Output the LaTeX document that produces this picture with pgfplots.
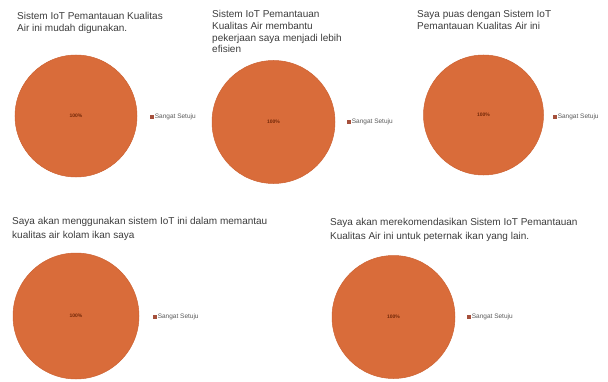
\documentclass[border=0pt]{standalone}
\usepackage{pgfplots}
\pgfplotsset{compat=1.18}
\usepackage{fontspec}
\setmainfont{Liberation Sans}
\definecolor{pieorange}{RGB}{217,108,58}
\definecolor{pieedge}{RGB}{205,98,50}
\definecolor{legmark}{RGB}{165,80,60}
\definecolor{titlegray}{RGB}{60,60,60}
\definecolor{leggray}{RGB}{90,90,90}
\definecolor{labcol}{RGB}{115,40,8}

% #1 cx(px) #2 cy(px) #3 r(px) #4 legend rel x #5 legend rel y
\newcommand{\pie}[5]{%
\begin{axis}[
  at={(#1pt,{381pt-#2pt})}, anchor=center,
  scale only axis, width={2*#3pt}, height={2*#3pt},
  xmin=-1, xmax=1, ymin=-1, ymax=1,
  hide axis, clip=false,
  legend style={at={(#4,#5)}, anchor=west, draw=none, fill=none,
    inner sep=0pt, outer sep=0pt,
    font=\fontsize{6.5}{7}\selectfont, text=leggray,
    nodes={inner sep=1.2pt}},
  legend image code/.code={\fill[legmark] (0pt,-1.6pt) rectangle (3.2pt,1.6pt);},
]
\addplot[only marks, mark=*, mark size=#3pt,
  mark options={fill=pieorange, draw=pieedge, line width=0.5pt},
  point meta=explicit,
  nodes near coords={\pgfmathprintnumber[assume math mode=true]{\pgfplotspointmeta}\%},
  nodes near coords align=center,
  every node near coord/.append style={anchor=center, font=\fontsize{5}{6}\selectfont\bfseries, text=labcol, inner sep=0pt},
] coordinates {(0,0) [100]};
\addlegendentry{Sangat Setuju}
\end{axis}}

\begin{document}
\begin{tikzpicture}
\path (0pt,0pt) rectangle (608pt,381pt);
\tikzset{ttl/.style={anchor=base west, inner sep=0pt, font=\fontsize{10}{12}\selectfont, text=titlegray}}

% titles (x px, baseline y px -> tikz y = 381 - y)
\node[ttl] at (17pt,{381pt-20pt}) {Sistem IoT Pemantauan Kualitas};
\node[ttl] at (17pt,{381pt-32pt}) {Air ini mudah digunakan.};

\node[ttl] at (212pt,{381pt-17.5pt}) {Sistem IoT Pemantauan};
\node[ttl] at (212pt,{381pt-29.5pt}) {Kualitas Air membantu};
\node[ttl] at (212pt,{381pt-41.5pt}) {pekerjaan saya menjadi lebih};
\node[ttl] at (212pt,{381pt-53pt}) {efisien};

\node[ttl] at (417pt,{381pt-17.5pt}) {Saya puas dengan Sistem IoT};
\node[ttl] at (417pt,{381pt-29.5pt}) {Pemantauan Kualitas Air ini};

\node[ttl] at (12pt,{381pt-224pt}) {Saya akan menggunakan sistem IoT ini dalam memantau};
\node[ttl] at (12pt,{381pt-238pt}) {kualitas air kolam ikan saya};

\node[ttl] at (330pt,{381pt-225pt}) {Saya akan merekomendasikan Sistem IoT Pemantauan};
\node[ttl] at (330pt,{381pt-239pt}) {Kualitas Air ini untuk peternak ikan yang lain.};

\pie{76}{116}{61}{1.107}{0.492}
\pie{273.5}{122}{61.5}{1.098}{0.5}
\pie{483.5}{115}{60}{1.079}{0.483}
\pie{76}{316}{63}{1.111}{0.492}
\pie{393.5}{317}{61.5}{1.098}{0.5}
\end{tikzpicture}
\end{document}
